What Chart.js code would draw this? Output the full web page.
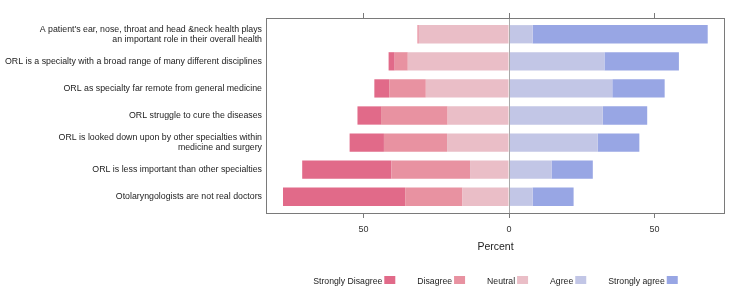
<!DOCTYPE html>
<html><head><meta charset="utf-8">
<script src="https://cdn.jsdelivr.net/npm/chart.js@4"></script>
<style>html,body{margin:0;padding:0;background:#fff}#wrap{width:750px;height:302px;position:relative}</style>
</head><body><div id="wrap"><canvas id="c"></canvas></div>
<script>
const categories = [
  ["A patient's ear, nose, throat and head &neck health plays", "an important role in their overall health"],
  "ORL is a specialty with a broad range of many different disciplines",
  "ORL as specialty far remote from general medicine",
  "ORL struggle to cure the diseases",
  ["ORL is looked down upon by other specialties within", "medicine and surgery"],
  "ORL is less important than other specialties",
  "Otolaryngologists are not real doctors"
];
const seriesNames = ["Strongly Disagree", "Disagree", "Neutral", "Agree", "Strongly agree"];
const stronglyDisagree = [0.0, 2.1, 5.1, 8.1, 11.8, 30.7, 42.0];
const disagree         = [0.5, 4.5, 12.6, 22.9, 21.7, 27.0, 19.7];
const neutral          = [31.0, 34.8, 28.6, 21.1, 21.3, 13.4, 16.0];
const agree            = [8.1, 32.8, 35.5, 32.2, 30.5, 14.6, 8.1];
const stronglyAgree    = [60.2, 25.6, 18.0, 15.3, 14.3, 14.2, 14.1];
const xTickValues = [-50, 0, 50];

const colors = {
  sd: 'rgb(225,106,137)',
  d: 'rgb(232,146,161)',
  n: 'rgb(234,190,199)',
  a: 'rgb(194,198,230)',
  sa: 'rgb(152,166,228)'
};
const FONT = '"Liberation Sans", Arial, Helvetica, sans-serif';

function toPoints(vals, sign) { return vals.map((v, i) => ({ x: sign * v, y: i })); }

const datasets = [
  { label: seriesNames[2], data: toPoints(neutral, -1), backgroundColor: colors.n },
  { label: seriesNames[1], data: toPoints(disagree, -1), backgroundColor: colors.d },
  { label: seriesNames[0], data: toPoints(stronglyDisagree, -1), backgroundColor: colors.sd },
  { label: seriesNames[3], data: toPoints(agree, 1), backgroundColor: colors.a },
  { label: seriesNames[4], data: toPoints(stronglyAgree, 1), backgroundColor: colors.sa }
].map(d => Object.assign(d, { borderWidth: 0, categoryPercentage: 1, barPercentage: 0.675 }));

const legendItems = [
  { text: seriesNames[0], color: colors.sd },
  { text: seriesNames[1], color: colors.d },
  { text: seriesNames[2], color: colors.n },
  { text: seriesNames[3], color: colors.a },
  { text: seriesNames[4], color: colors.sa }
];

const decor = {
  id: 'decor',
  afterDatasetsDraw(chart) {
    const { ctx, chartArea: ca, scales } = chart;
    const x0 = Math.round(scales.x.getPixelForValue(0)) + 0.5;
    ctx.save();
    ctx.strokeStyle = '#aaaaaa';
    ctx.lineWidth = 1;
    ctx.beginPath();
    ctx.moveTo(x0, ca.top);
    ctx.lineTo(x0, ca.bottom);
    ctx.stroke();
    ctx.strokeStyle = '#7a7a7a';
    const l = Math.round(ca.left) - 0.5, t = Math.round(ca.top) + 0.5;
    const r = Math.round(ca.right) + 0.5, b = Math.round(ca.bottom) + 0.5;
    ctx.strokeRect(l, t, r - l, b - t);
    ctx.restore();
  },
  afterDraw(chart) {
    const { ctx, chartArea: ca } = chart;
    ctx.save();
    ctx.font = '8.7px ' + FONT;
    ctx.textBaseline = 'middle';
    const boxW = 11, boxH = 8, gapTxt = 2, gapItem = 22;
    const widths = legendItems.map(it => ctx.measureText(it.text).width + gapTxt + boxW);
    const total = widths.reduce((a, b) => a + b, 0) + gapItem * (legendItems.length - 1);
    let x = (ca.left + ca.right) / 2 - total / 2;
    const yText = 282, yBox = 276;
    legendItems.forEach((it, i) => {
      const tw = ctx.measureText(it.text).width;
      ctx.fillStyle = '#222';
      ctx.textAlign = 'left';
      ctx.fillText(it.text, x, yText);
      ctx.fillStyle = it.color;
      ctx.fillRect(x + tw + gapTxt, yBox, boxW, boxH);
      x += widths[i] + gapItem;
    });
    ctx.restore();
  }
};

const xCommon = {
  type: 'linear', min: -83.2, max: 73.9, offset: false,
  afterBuildTicks: s => { s.ticks = xTickValues.map(v => ({ value: v })); },
  grid: { drawOnChartArea: false, drawTicks: true, tickLength: 5, color: '#7a7a7a', offset: false },
  border: { display: false }
};

new Chart(document.getElementById('c'), {
  type: 'bar',
  data: { datasets },
  options: {
    indexAxis: 'y',
    responsive: true,
    maintainAspectRatio: false,
    animation: false,
    layout: { padding: { left: 0, right: 26, top: 0, bottom: 49 } },
    plugins: { legend: { display: false }, tooltip: { enabled: false } },
    scales: {
      x: Object.assign({}, xCommon, {
        position: 'bottom', stacked: true,
        afterFit: s => { s.height = 40; },
        ticks: { padding: 6, color: '#333', font: { family: FONT, size: 9 }, callback: v => Math.abs(v) },
        title: { display: true, text: 'Percent', color: '#222', padding: { top: 0, bottom: 0 }, font: { family: FONT, size: 10.5 } }
      }),
      x2: Object.assign({}, xCommon, {
        position: 'top',
        afterFit: s => { s.height = 18; },
        ticks: { display: false }
      }),
      y: {
        type: 'linear', stacked: true, reverse: true, min: -0.6, max: 6.6, offset: false,
        afterBuildTicks: s => { s.ticks = categories.map((_, i) => ({ value: i })); },
        afterFit: s => { s.width = 267; },
        grid: { display: false, drawTicks: false, offset: false },
        border: { display: false },
        ticks: {
          padding: 5, color: '#222', autoSkip: false,
          font: { family: FONT, size: 8.8, lineHeight: 1.15 },
          callback: v => categories[v]
        }
      }
    }
  },
  plugins: [decor]
});
</script>
</body></html>
